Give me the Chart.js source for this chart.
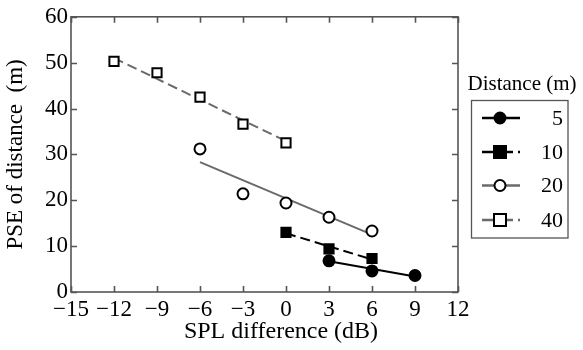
<!DOCTYPE html>
<html>
<head>
<meta charset="utf-8">
<script src="https://cdn.jsdelivr.net/npm/chart.js@4/dist/chart.umd.min.js"></script>
<style>
html,body{margin:0;padding:0;background:#fff;}
#wrap{width:583px;height:350px;}
</style>
</head>
<body>
<div id="wrap"><canvas id="c" width="583" height="350"></canvas></div>
<script>
// ---- data ----
const seriesNames = ['5', '10', '20', '40'];
const x5 = [3, 6, 9];
const y5 = [6.8, 4.6, 3.6];
const x10 = [0, 3, 6];
const y10 = [13.0, 9.4, 7.3];
const x20 = [-6, -3, 0, 3, 6];
const y20 = [31.2, 21.4, 19.4, 16.3, 13.3];
const x40 = [-12, -9, -6, -3, 0];
const y40 = [50.3, 47.8, 42.5, 36.6, 32.5];
// fitted lines (end points)
const fitX5 = [3, 9],   fitY5 = [6.7, 3.4];
const fitX10 = [0, 6],  fitY10 = [12.8, 7.1];
const fitX20 = [-6, 6], fitY20 = [28.3, 12.5];
const fitX40 = [-12, 0], fitY40 = [51.0, 32.9];
const xTicks = [-15, -12, -9, -6, -3, 0, 3, 6, 9, 12];
const yTicks = [0, 10, 20, 30, 40, 50, 60];
const xTitle = 'SPL difference (dB)';
const yTitle = 'PSE of distance  (m)';
const legendTitle = 'Distance (m)';

const FONT = "'Liberation Serif', 'Times New Roman', serif";
Chart.defaults.font.family = FONT;
Chart.defaults.color = '#000';
const pts = (xs, ys) => xs.map((x, i) => ({x: x, y: ys[i]}));

const styles = [
  {line: '#000000', dash: [], point: 'circle', fill: '#000000', r: 5.5},
  {line: '#000000', dash: [10, 5], point: 'rect', fill: '#000000', r: 6.5},
  {line: '#6a6a6a', dash: [], point: 'circle', fill: '#ffffff', r: 5.5},
  {line: '#6a6a6a', dash: [10, 5], point: 'rect', fill: '#ffffff', r: 6.5}
];
const fits = [[fitX5, fitY5], [fitX10, fitY10], [fitX20, fitY20], [fitX40, fitY40]];
const marks = [[x5, y5], [x10, y10], [x20, y20], [x40, y40]];

const datasets = [];
fits.forEach((f, i) => {
  datasets.push({
    label: seriesNames[i] + ' fit', data: pts(f[0], f[1]), showLine: true,
    borderColor: styles[i].line, borderWidth: 2, borderDash: styles[i].dash,
    pointRadius: 0, fill: false, order: 2
  });
});
marks.forEach((m, i) => {
  datasets.push({
    label: seriesNames[i], data: pts(m[0], m[1]), showLine: false,
    pointStyle: styles[i].point, pointRadius: styles[i].r,
    pointBackgroundColor: styles[i].fill, pointBorderColor: '#000000',
    pointBorderWidth: 2, order: 1
  });
});

const AXIS_COLOR = '#555555';
const framePlugin = {
  id: 'frame',
  beforeDatasetsDraw(chart) {
    const {ctx, chartArea: a, scales: {x, y}} = chart;
    ctx.save();
    ctx.strokeStyle = AXIS_COLOR;
    ctx.lineWidth = 1.6;
    ctx.strokeRect(a.left, a.top, a.right - a.left, a.bottom - a.top);
    const L = 6;
    ctx.beginPath();
    xTicks.forEach(v => {
      const px = Math.round(x.getPixelForValue(v)) + 0.5;
      ctx.moveTo(px, a.bottom); ctx.lineTo(px, a.bottom - L);
      ctx.moveTo(px, a.top); ctx.lineTo(px, a.top + L);
    });
    yTicks.forEach(v => {
      const py = Math.round(y.getPixelForValue(v)) + 0.5;
      ctx.moveTo(a.left, py); ctx.lineTo(a.left + L, py);
      ctx.moveTo(a.right, py); ctx.lineTo(a.right - L, py);
    });
    ctx.stroke();
    ctx.restore();
  },
  afterDraw(chart) {
    const {ctx} = chart;
    ctx.save();
    // x axis title
    ctx.fillStyle = '#000';
    ctx.font = '24px ' + FONT;
    ctx.textAlign = 'center';
    ctx.textBaseline = 'middle';
    ctx.fillText(xTitle, 281, 332);
    // legend title
    ctx.font = '21px ' + FONT;
    ctx.fillText(legendTitle, 522, 84);
    // legend box
    ctx.strokeStyle = AXIS_COLOR;
    ctx.lineWidth = 1.3;
    ctx.strokeRect(471.5, 100.5, 96.5, 137.5);
    const rows = [118, 152, 185.5, 220];
    seriesNames.forEach((name, i) => {
      const s = styles[i];
      const yy = rows[i];
      ctx.save();
      ctx.strokeStyle = s.line;
      ctx.lineWidth = 2.5;
      ctx.setLineDash(s.dash.length ? [13, 5] : []);
      ctx.beginPath();
      ctx.moveTo(482, yy); ctx.lineTo(520, yy);
      ctx.stroke();
      ctx.restore();
      ctx.save();
      ctx.fillStyle = s.fill;
      ctx.strokeStyle = '#000';
      ctx.lineWidth = 2;
      ctx.beginPath();
      if (s.point === 'circle') {
        ctx.arc(500, yy, s.r, 0, Math.PI * 2);
      } else {
        ctx.rect(500 - 6, yy - 6, 12, 12);
      }
      ctx.fill(); ctx.stroke();
      ctx.restore();
      ctx.fillStyle = '#000';
      ctx.font = '22px ' + FONT;
      ctx.textAlign = 'right';
      ctx.textBaseline = 'middle';
      ctx.fillText(name, 563, yy + 1);
    });
    ctx.restore();
  }
};

new Chart(document.getElementById('c'), {
  type: 'scatter',
  data: {datasets: datasets},
  options: {
    responsive: false,
    animation: false,
    events: [],
    layout: {padding: {left: 0, right: 125, top: 16, bottom: 0}},
    plugins: {legend: {display: false}, tooltip: {enabled: false}},
    scales: {
      x: {
        type: 'linear', min: -15, max: 12,
        afterBuildTicks: s => { s.ticks = xTicks.map(v => ({value: v})); },
        afterFit: s => { s.height = 58; },
        grid: {display: false, drawTicks: false},
        border: {display: false},
        ticks: {
          padding: 4, color: '#000', font: {family: FONT, size: 23},
          maxRotation: 0, autoSkip: false,
          callback: v => String(v).replace('-', '\u2212')
        },
        title: {display: false}
      },
      y: {
        type: 'linear', min: 0, max: 60,
        afterBuildTicks: s => { s.ticks = yTicks.map(v => ({value: v})); },
        afterFit: s => { s.width = 71; },
        grid: {display: false, drawTicks: false},
        border: {display: false},
        ticks: {
          padding: 3, color: '#000', font: {family: FONT, size: 23},
          autoSkip: false
        },
        title: {display: true, text: yTitle, color: '#000', font: {family: FONT, size: 23}, padding: {top: 2, bottom: 0}}
      }
    }
  },
  plugins: [framePlugin]
});
</script>
</body>
</html>
